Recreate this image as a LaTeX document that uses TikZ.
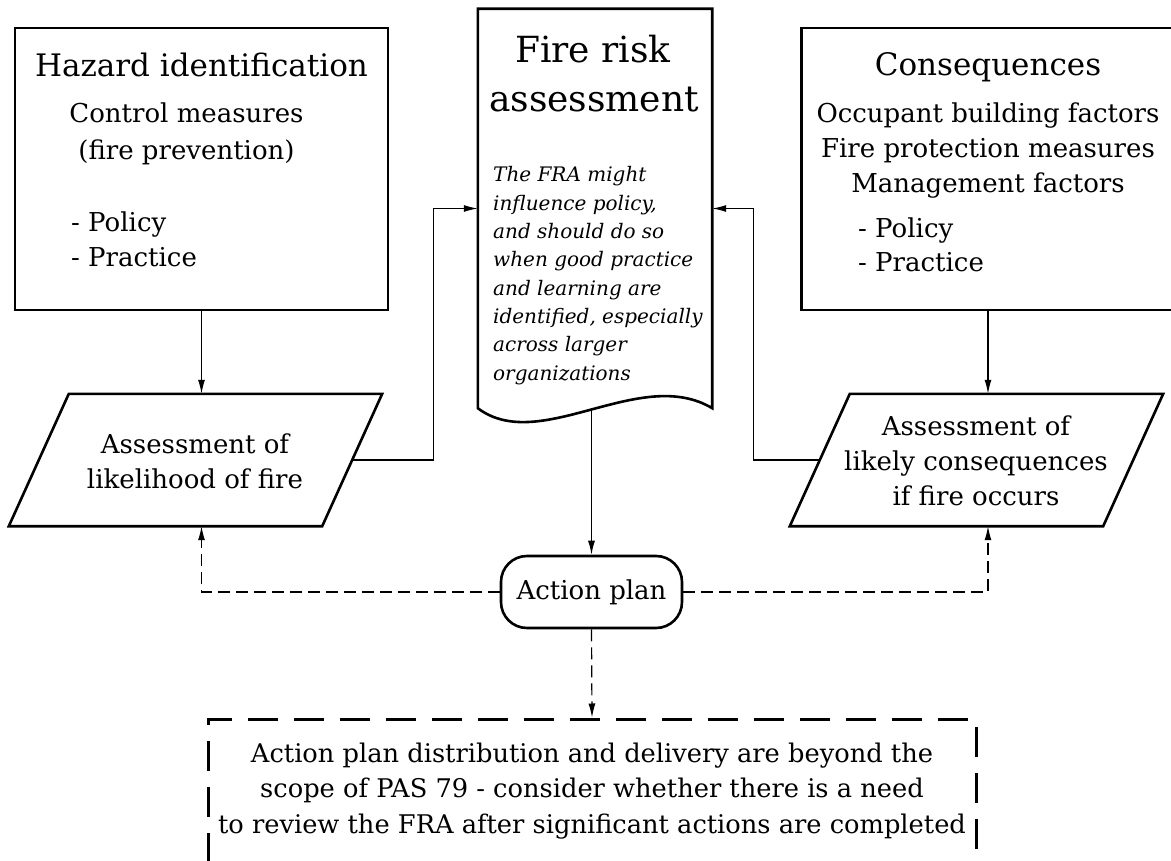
\documentclass[tikz,border=0pt]{standalone}
\usepackage{fontspec}
\setmainfont{DejaVu Serif}
\usetikzlibrary{arrows.meta,positioning}

\tikzset{
  box/.style={draw,line width=2.6pt,minimum width=373pt,minimum height=282pt,inner sep=0pt},
  para/.style={minimum width=313pt,minimum height=132pt,inner sep=0pt},
  conn/.style={line width=1.2pt,-{Latex[length=14pt,width=7pt]}},
  dconn/.style={conn,dash pattern=on 12pt off 6pt},
  txt/.style={anchor=base,inner sep=0pt,font=\fontsize{26}{31}\selectfont},
  bullet/.style={txt,anchor=base west},
}

\begin{document}
\begin{tikzpicture}[x=1pt,y=-1pt]
        \useasboundingbox (0,0) rectangle (1171,861);
        \clip (0,0) rectangle (1171,861);
        % boxes
        \node[box] (hazard) at (201.5,169) {};
        \node[box] (conseq) at (988,169) {};
        \node[para] (likely) at (195.5,460) {};
        \node[para] (occurs) at (976.5,460) {};
        \foreach \n in {likely,occurs}
          \draw[line width=2.6pt] ([xshift=30pt]\n.north west) -- ([xshift=30pt]\n.north east)
            -- ([xshift=-30pt]\n.south east) -- ([xshift=-30pt]\n.south west) -- cycle;
        \node[draw,line width=2.6pt,rounded corners=26pt,minimum width=181pt,minimum height=72pt,
          font=\fontsize{26}{31}\selectfont] (action) at (591.5,592) {Action plan};
        \node[draw,line width=3pt,dash pattern=on 30pt off 16pt,minimum width=768pt,minimum height=190pt] (note) at (592,814) {};
        % document shape
        \node[minimum width=234pt,minimum height=399pt,inner sep=0pt] (fra) at (595,208.5) {};
        \draw[line width=2.6pt] (fra.south west) -- (fra.north west) -- (fra.north east) -- (fra.south east)
          .. controls (640,365) and (540,455) .. (fra.south west) -- cycle;
        % texts
        \node[txt,font=\fontsize{31}{36}\selectfont] (hazard-t) at (201.5,77) {Hazard identification};
        \node[txt] (hazard-1) at (186.5,123) {Control measures};
        \node[txt] (hazard-2) at (186.5,160) {(fire prevention)};
        \node[bullet] (hazard-3) at (71,232) {- Policy};
        \node[bullet] (hazard-4) at (71,267) {- Practice};
        \node[txt,font=\fontsize{31}{36}\selectfont] (conseq-t) at (988,76) {Consequences};
        \node[txt] (conseq-1) at (988,123) {Occupant building factors};
        \node[txt] (conseq-2) at (988,158) {Fire protection measures};
        \node[txt] (conseq-3) at (988,193) {Management factors};
        \node[bullet] (conseq-4) at (858,238) {- Policy};
        \node[bullet] (conseq-5) at (858,272) {- Practice};
        \node[txt,font=\fontsize{36}{42}\selectfont] (fra-t1) at (593,63) {Fire risk};
        \node[txt,font=\fontsize{36}{42}\selectfont] (fra-t2) at (594,112) {assessment};
        \foreach \ln [count=\i from 0] in {The FRA might,{influence policy,},and should do so,when good practice,
          and learning are,{identified, especially},across larger,organizations}
          \node[bullet,font=\fontsize{20}{24}\selectfont\itshape] (fra-\i) at (493,{182+28.3*\i}) {\ln};
        \node[txt] (likely-1) at (195,453) {Assessment of};
        \node[txt] (likely-2) at (195,488) {likelihood of fire};
        \node[txt] (occurs-1) at (976,435) {Assessment of};
        \node[txt] (occurs-2) at (976,470) {likely consequences};
        \node[txt] (occurs-3) at (976,505) {if fire occurs};
        \foreach \ln [count=\i from 0] in {Action plan distribution and delivery are beyond the,
          scope of PAS 79 - consider whether there is a need,to review the FRA after significant actions are completed}
          \node[txt,font=\fontsize{25.7}{31}\selectfont] (note-\i) at (592,{762+35.5*\i}) {\ln};
        % connectors
        \draw[conn] (hazard.south) -- (hazard.south |- likely.north);
        \draw[conn] (conseq.south) -- (conseq.south |- occurs.north);
        \draw[conn] (likely.east) -- ++(81,0) |- (fra.west);
        \draw[conn] (occurs.west) -- ++(-66,0) |- (fra.east);
        \draw[conn] (action.north |- fra.south) -- (action.north);
        \draw[dconn] (action.west) -| (hazard.south |- likely.south);
        \draw[dconn] (action.east) -| (conseq.south |- occurs.south);
        \draw[dconn] (action.south) -- (note.north);
      \end{tikzpicture}
\end{document}
